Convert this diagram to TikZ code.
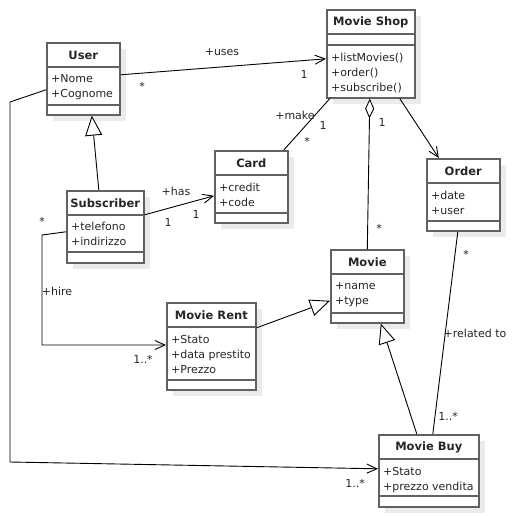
\documentclass[tikz,border=0pt]{standalone}
\usepackage{fontspec}
\setmainfont{DejaVu Sans}
\usetikzlibrary{calc,arrows.meta}
\tikzset{
	classbox/.style={draw=black!62, line width=1.6pt, fill=white, anchor=north west, inner sep=0pt},
	classline/.style={draw=black!62, line width=1.6pt},
	classname/.style={font=\fontsize{11.5}{13}\selectfont\bfseries, text=black!85, inner sep=0pt},
	members/.style={font=\fontsize{11}{15}\selectfont, text=black!85, anchor=north west, align=left, inner sep=0pt},
	lbl/.style={font=\fontsize{11}{13}\selectfont, text=black!85, inner sep=0pt},
	conn/.style={draw=black, line width=0.9pt},
	assoc/.style={conn, -{Straight Barb[length=10pt,width=9pt]}},
	inherit/.style={conn, -{Triangle[length=20pt,width=17pt,fill=white]}},
	aggr/.style={conn, {Diamond[length=20pt,width=9pt,fill=white]}-}
}
\def\umlclass(#1)(#2,#3)(#4:#5:#6)#7{
	\fill[black!8] (#2+7,#3+7) rectangle ++(#4,#5);
	\node[classbox, minimum width=#4pt, minimum height=#5pt] (#1) at (#2,#3) {};
	\draw[classline] ([yshift=-25pt]#1.north west) -- ([yshift=-25pt]#1.north east);
	\draw[classline] ([yshift=-#6pt]#1.north west) -- ([yshift=-#6pt]#1.north east);
	\node[classname] (#1-name) at ([yshift=-13pt]#1.north) {#7};
}
\begin{document}
\begin{tikzpicture}[x=1pt, y=-1pt]
			%%%%% START %%%%%
			\useasboundingbox[fill=white] (0,0) rectangle (515,516);
			
			%%%%% CLASSES %%%%%
			\umlclass(user)(46,42)(73:72:63){User}
			\node[members] (user-attr) at ([xshift=5pt,yshift=-32pt]user.north west) {+Nome\\+Cognome};
			
			\umlclass(sub)(66,190)(77:72:62){Subscriber}
			\node[members] (sub-attr) at ([xshift=5pt,yshift=-32pt]sub.north west) {+telefono\\+indirizzo};
			
			\umlclass(card)(214,150)(73:72:63){Card}
			\node[members] (card-attr) at ([xshift=5pt,yshift=-33pt]card.north west) {+credit\\+code};
			
			\umlclass(shop)(326,9)(88:88:36){Movie Shop}
			\node[members] (shop-ops) at ([xshift=5pt,yshift=-44pt]shop.north west) {+listMovies()\\+order()\\+subscribe()};
			
			\umlclass(order)(426,158)(73:72:63){Order}
			\node[members] (order-attr) at ([xshift=5pt,yshift=-33pt]order.north west) {+date\\+user};
			
			\umlclass(movie)(330,249)(73:73:64){Movie}
			\node[members] (movie-attr) at ([xshift=5pt,yshift=-33pt]movie.north west) {+name\\+type};
			
			\umlclass(rent)(166,302)(89:87:78){Movie Rent}
			\node[members] (rent-attr) at ([xshift=5pt,yshift=-33pt]rent.north west) {+Stato\\+data prestito\\+Prezzo};
			
			\umlclass(buy)(378,434)(100:72:62){Movie Buy}
			\node[members] (buy-attr) at ([xshift=5pt,yshift=-33pt]buy.north west) {+Stato\\+prezzo vendita};
			
			%%%%% CONNECTORS %%%%%
			\draw[assoc] ([yshift=4pt]user.east) -- ([yshift=-5pt]shop.west);
			\node[lbl] (l-uses) at (222,52) {+uses};
			\node[lbl] (l-uses-a) at (142,86) {*};
			\node[lbl] (l-uses-b) at (304,74) {1};
			
			\coordinate (buyA) at (10,102);
			\coordinate (buyB) at (10,462);
			\draw[assoc] ([yshift=-11pt]user.west) -- (buyA) -- (buyB) -- ([yshift=2pt]buy.west);
			\node[lbl] (l-buy-a) at (355,483) {1..*};
			
			\draw[inherit] ([xshift=-6.5pt]sub.north) -- ([xshift=8.5pt]user.south);
			
			\draw[assoc] ([yshift=12pt]sub.east) -- ([yshift=-9pt]card.west);
			\node[lbl] (l-has) at (176,191) {+has};
			\node[lbl] (l-has-a) at (168,222) {1};
			\node[lbl] (l-has-b) at (196,214) {1};
			
			\coordinate (hireA) at (42,235);
			\coordinate (hireB) at (42,345);
			\draw[assoc] ([yshift=-5pt]sub.west) -- (hireA) -- (hireB) -- (hireB -| rent.west);
			\node[lbl] (l-hire-a) at (42,221) {*};
			\node[lbl] (l-hire) at (57,291) {+hire};
			\node[lbl] (l-hire-b) at (143,359) {1..*};
			
			\draw[conn] ([xshift=32.5pt]card.north) -- ([xshift=-41pt]shop.south);
			\node[lbl] (l-make) at (295,115) {+make};
			\node[lbl] (l-make-a) at (323,125) {1};
			\node[lbl] (l-make-b) at (307,141) {*};
			
			\draw[aggr] ([xshift=-1pt]shop.south) -- (movie.north);
			\node[lbl] (l-aggr-a) at (382,122) {1};
			\node[lbl] (l-aggr-b) at (379,228) {*};
			
			\draw[assoc] ([xshift=29pt]shop.south) -- ([xshift=-24.5pt]order.north);
			
			\draw[conn] ([xshift=-5.5pt]order.south) -- ([xshift=4pt]buy.north);
			\node[lbl] (l-rel-a) at (466,254) {*};
			\node[lbl] (l-rel) at (475,333) {+related to};
			\node[lbl] (l-rel-b) at (448,416) {1..*};
			
			\draw[inherit] ([yshift=18.5pt]rent.east) -- ([yshift=-14.5pt]movie.west);
			\draw[inherit] ([xshift=-12pt]buy.north) -- ([xshift=13.5pt]movie.south);
			
			%%%%% END %%%%%
\end{tikzpicture}
\end{document}
